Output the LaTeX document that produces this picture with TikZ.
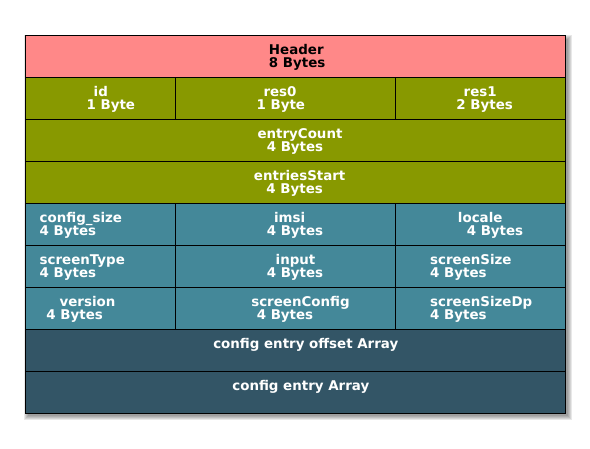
\documentclass[tikz,border=0pt]{standalone}
\usepackage{fontspec}
\setmainfont{DejaVu Sans}
\definecolor{hdr}{HTML}{FF8888}
\definecolor{olive}{HTML}{889900}
\definecolor{teal}{HTML}{448899}
\definecolor{dark}{HTML}{335566}
\begin{document}
\begin{tikzpicture}[x=1pt,y=-1pt,
  cell/.style={draw=black, line width=1pt, anchor=north west, minimum height=42pt, inner sep=0pt},
  txt/.style={inner sep=0pt, font=\fontsize{13.4}{16}\selectfont\bfseries, text=white},
  lft/.style={txt, anchor=base west},
  ctr/.style={txt, anchor=base}]
\useasboundingbox (0,0) rectangle (590,448);
% soft shadow
\foreach \r in {4,3,2,1,0}
  \fill[black, opacity=0.09] (28-\r,39-\r) rectangle (568+\r,416+\r);
% rows
\node[cell, fill=hdr, minimum width=540pt] (header) at (25,35) {};
\node[cell, fill=olive, minimum width=150pt] (id) at (25,77) {};
\node[cell, fill=olive, minimum width=220pt] (res0) at (175,77) {};
\node[cell, fill=olive, minimum width=170pt] (res1) at (395,77) {};
\node[cell, fill=olive, minimum width=540pt] (entryCount) at (25,119) {};
\node[cell, fill=olive, minimum width=540pt] (entriesStart) at (25,161) {};
\node[cell, fill=teal, minimum width=150pt] (configsize) at (25,203) {};
\node[cell, fill=teal, minimum width=220pt] (imsi) at (175,203) {};
\node[cell, fill=teal, minimum width=170pt] (locale) at (395,203) {};
\node[cell, fill=teal, minimum width=150pt] (screenType) at (25,245) {};
\node[cell, fill=teal, minimum width=220pt] (input) at (175,245) {};
\node[cell, fill=teal, minimum width=170pt] (screenSize) at (395,245) {};
\node[cell, fill=teal, minimum width=150pt] (version) at (25,287) {};
\node[cell, fill=teal, minimum width=220pt] (screenConfig) at (175,287) {};
\node[cell, fill=teal, minimum width=170pt] (screenSizeDp) at (395,287) {};
\node[cell, fill=dark, minimum width=540pt] (offsetArray) at (25,329) {};
\node[cell, fill=dark, minimum width=540pt] (entryArray) at (25,371) {};
% texts
\node[ctr, text=black] (tHeaderA) at (296.3,54) {Header};
\node[ctr, text=black] (tHeaderB) at (297.2,67.7) {8 Bytes};
\node[ctr] (tIdA) at (100.8,96) {id};
\node[ctr] (tIdB) at (110.8,109.7) {1 Byte};
\node[ctr] (tRes0A) at (280,96) {res0};
\node[ctr] (tRes0B) at (280.8,109.7) {1 Byte};
\node[ctr] (tRes1A) at (480.2,96) {res1};
\node[ctr] (tRes1B) at (484.7,109.7) {2 Bytes};
\node[ctr] (tEcA) at (300,138) {entryCount};
\node[ctr] (tEcB) at (295,151.7) {4 Bytes};
\node[ctr] (tEsA) at (299.7,180) {entriesStart};
\node[ctr] (tEsB) at (294.7,193.7) {4 Bytes};
\node[lft] (tCsA) at (39.5,222) {config\_size};
\node[lft] (tCsB) at (39.5,235.7) {4 Bytes};
\node[ctr] (tImA) at (289.7,222) {imsi};
\node[ctr] (tImB) at (295,235.7) {4 Bytes};
\node[ctr] (tLoA) at (480.2,222) {locale};
\node[ctr] (tLoB) at (495,235.7) {4 Bytes};
\node[lft] (tStA) at (39.5,264) {screenType};
\node[lft] (tStB) at (39.5,277.7) {4 Bytes};
\node[ctr] (tInA) at (295.5,264) {input};
\node[ctr] (tInB) at (295,277.7) {4 Bytes};
\node[lft] (tSsA) at (430,264) {screenSize};
\node[lft] (tSsB) at (430,277.7) {4 Bytes};
\node[ctr] (tVeA) at (87.5,306) {version};
\node[ctr] (tVeB) at (74.7,319.7) {4 Bytes};
\node[ctr] (tScA) at (300.5,306) {screenConfig};
\node[ctr] (tScB) at (285,319.7) {4 Bytes};
\node[lft] (tSdA) at (430,306) {screenSizeDp};
\node[lft] (tSdB) at (430,319.7) {4 Bytes};
\node[ctr] (tOffA) at (305.8,348.3) {config entry offset Array};
\node[ctr] (tArrA) at (300.8,390) {config entry Array};
\end{tikzpicture}
\end{document}
